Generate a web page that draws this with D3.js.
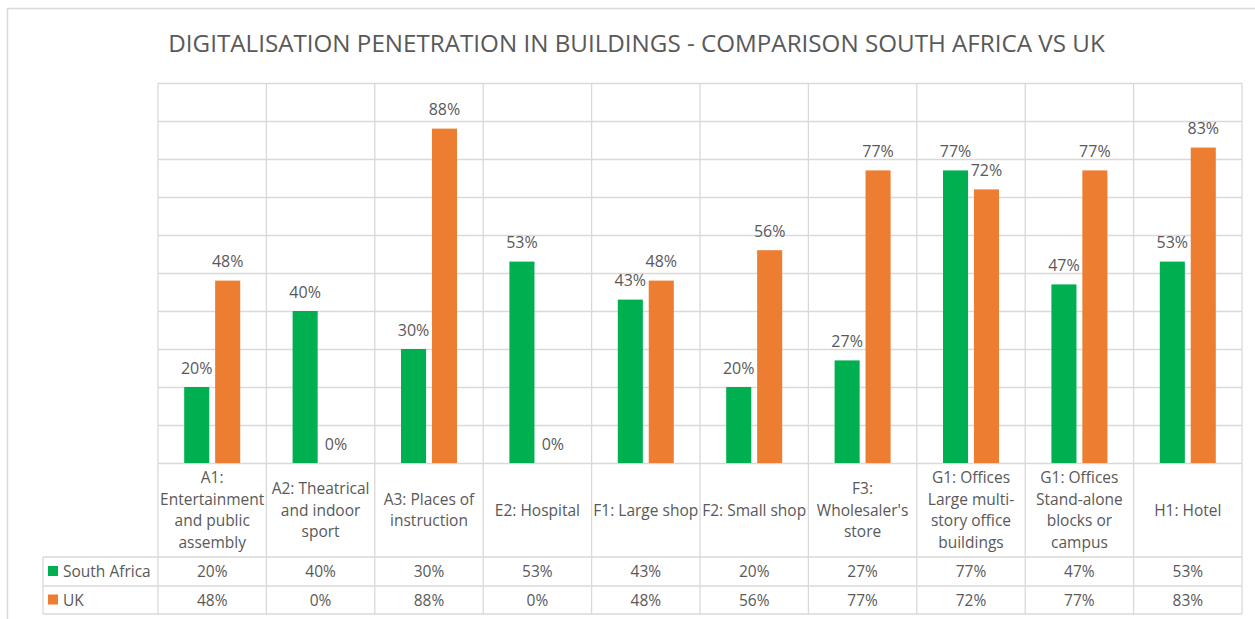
<!DOCTYPE html>
<html>
<head>
<meta charset="utf-8">
<script src="https://cdn.jsdelivr.net/npm/d3@7"></script>
<style>
  html, body { margin: 0; padding: 0; background: #ffffff; }
  svg { display: block; font-family: "Open Sans", "Noto Sans", sans-serif; }
</style>
</head>
<body>
<svg id="chart" width="1255" height="619"></svg>
<script>
// ---- data ----
const chartTitle = "DIGITALISATION PENETRATION IN BUILDINGS - COMPARISON SOUTH AFRICA VS UK";
const categories = [
  "A1:\nEntertainment\nand public\nassembly",
  "A2: Theatrical\nand indoor\nsport",
  "A3: Places of\ninstruction",
  "E2: Hospital",
  "F1: Large shop",
  "F2: Small shop",
  "F3:\nWholesaler's\nstore",
  "G1: Offices\nLarge multi-\nstory office\nbuildings",
  "G1: Offices\nStand-alone\nblocks or\ncampus",
  "H1: Hotel"
];
const seriesNames = ["South Africa", "UK"];
const southAfrica = [0.20, 0.40, 0.30, 0.53, 0.43, 0.20, 0.27, 0.77, 0.47, 0.53];
const uk = [0.48, 0.00, 0.88, 0.00, 0.48, 0.56, 0.77, 0.72, 0.77, 0.83];
const seriesColors = ["#00b050", "#ed7d31"];
const yTicks = [0, 0.1, 0.2, 0.3, 0.4, 0.5, 0.6, 0.7, 0.8, 0.9, 1.0];

const seriesValues = [southAfrica, uk];
const fmt = d3.format(".0%");

// ---- layout ----
const plotLeft = 158, plotRight = 1242, plotTop = 83, plotBottom = 463;
const tableLeft = 43;
const catRowBottom = 557, row1Bottom = 586, row2Bottom = 614;
const gridColor = "#d9d9d9";
const textColor = "#595959";

const svg = d3.select("#chart");

// outer chart border
svg.append("rect")
  .attr("x", 7.5).attr("y", 8.5).attr("width", 1300).attr("height", 700)
  .attr("fill", "#fff").attr("stroke", gridColor).attr("stroke-width", 1.5);

// title
const title = svg.append("text")
  .attr("x", 636.5).attr("y", 52)
  .attr("text-anchor", "middle")
  .attr("fill", textColor)
  .attr("font-size", 24)
  .text(chartTitle);
{
  const w = title.node().getComputedTextLength();
  title.attr("font-size", 24 * 937 / w);
}

// scales
const x = d3.scaleBand().domain(d3.range(categories.length)).range([plotLeft, plotRight]).padding(0);
const bw = x.bandwidth();
const xs = d3.scaleBand().domain(d3.range(seriesNames.length))
  .range([bw / 2 - 28, bw / 2 + 28]).paddingInner(0.19).paddingOuter(0);
const y = d3.scaleLinear().domain([0, 1]).range([plotBottom, plotTop]);

// horizontal gridlines
const yAxis = d3.axisLeft(y).tickValues(yTicks).tickSize(-(plotRight - plotLeft)).tickFormat("");
const gy = svg.append("g").attr("transform", `translate(${plotLeft},0)`).call(yAxis);
gy.select(".domain").remove();
gy.selectAll(".tick line").attr("stroke", gridColor).attr("stroke-width", 1.3);

// vertical lines (category boundaries) through plot and table
const boundaries = d3.range(categories.length + 1).map(i => i < categories.length ? x(i) : x(categories.length - 1) + bw);
svg.append("g").selectAll("line").data(boundaries).join("line")
  .attr("x1", d => d).attr("x2", d => d)
  .attr("y1", plotTop).attr("y2", row2Bottom)
  .attr("stroke", gridColor).attr("stroke-width", 1.3);

// table horizontal lines
svg.append("g").selectAll("line").data([catRowBottom, row1Bottom, row2Bottom]).join("line")
  .attr("x1", tableLeft).attr("x2", plotRight)
  .attr("y1", d => d).attr("y2", d => d)
  .attr("stroke", gridColor).attr("stroke-width", 1.3);
svg.append("line")
  .attr("x1", tableLeft).attr("x2", tableLeft)
  .attr("y1", catRowBottom).attr("y2", row2Bottom)
  .attr("stroke", gridColor).attr("stroke-width", 1.3);

// bars
const groups = svg.append("g").selectAll("g").data(categories).join("g")
  .attr("transform", (d, i) => `translate(${x(i)},0)`);

seriesNames.forEach((s, si) => {
  groups.append("rect")
    .attr("x", xs(si))
    .attr("width", xs.bandwidth())
    .attr("y", (d, i) => y(seriesValues[si][i]))
    .attr("height", (d, i) => y(0) - y(seriesValues[si][i]))
    .attr("fill", seriesColors[si]);
  groups.append("text")
    .attr("x", xs(si) + xs.bandwidth() / 2)
    .attr("y", (d, i) => y(seriesValues[si][i]) - 13.5)
    .attr("text-anchor", "middle")
    .attr("fill", textColor)
    .attr("font-size", 16)
    .text((d, i) => fmt(seriesValues[si][i]));
});

// category labels
const lineH = 21.7;
const catCenter = (plotBottom + catRowBottom) / 2 + 5.5;
groups.append("text")
  .attr("text-anchor", "middle")
  .attr("fill", textColor)
  .attr("font-size", 15.5)
  .each(function (d) {
    const lines = d.split("\n");
    const t = d3.select(this);
    lines.forEach((ln, k) => {
      t.append("tspan")
        .attr("x", bw / 2)
        .attr("y", catCenter + (k - (lines.length - 1) / 2) * lineH)
        .text(ln);
    });
  });

// data table rows
const rowCenters = [(catRowBottom + row1Bottom) / 2, (row1Bottom + row2Bottom) / 2];
seriesNames.forEach((s, si) => {
  const cy = rowCenters[si];
  svg.append("rect")
    .attr("x", 48).attr("y", cy - 5.5).attr("width", 10).attr("height", 10)
    .attr("fill", seriesColors[si]);
  svg.append("text")
    .attr("x", 63).attr("y", cy + 5.5)
    .attr("fill", textColor).attr("font-size", 15.5)
    .text(s);
  groups.append("text")
    .attr("x", bw / 2)
    .attr("y", cy + 5.5)
    .attr("text-anchor", "middle")
    .attr("fill", textColor)
    .attr("font-size", 15.5)
    .text((d, i) => fmt(seriesValues[si][i]));
});
</script>
</body>
</html>
